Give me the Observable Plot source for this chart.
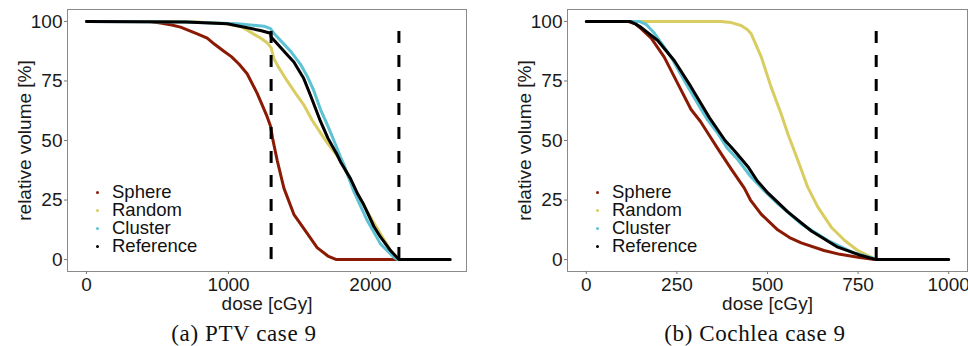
<!DOCTYPE html>
<html>
<head>
<meta charset="utf-8">
<script src="https://cdn.jsdelivr.net/npm/d3@7"></script>
<script src="https://cdn.jsdelivr.net/npm/@observablehq/plot@0.6"></script>
<style>
  html, body { margin: 0; padding: 0; background: white; }
  #wrap { position: relative; width: 968px; height: 346px; overflow: hidden; }
  .legend { position: absolute; font-family: "Liberation Sans", Arial, sans-serif; font-size: 18.5px; color: #111; line-height: 18px; }
  .legend .row { position: relative; height: 18px; white-space: nowrap; }
  .legend .dot { position: absolute; width: 3px; height: 3px; border-radius: 50%; top: 8px; left: 0; }
  .legend .lab { position: absolute; left: 16px; top: 0; line-height: 18px; height: 18px; }
  .caption { position: absolute; font-family: "Liberation Serif", "DejaVu Serif", serif; font-size: 23px; letter-spacing: 0.6px; color: #111; white-space: nowrap; transform: translate(-50%, -50%); }
</style>
</head>
<body>
<div id="wrap"></div>
<script>
// ---- data ----
const seriesNames = ["Sphere", "Random", "Cluster", "Reference"];
const seriesColors = ["#8b1a04", "#d9cd62", "#5cc2d4", "#000000"];

// Panel (a): PTV case 9 — [dose cGy, relative volume %]
const sphereA = [[0,100],[450,100],[521,99.3],[600,98.5],[662,97.6],[780,94.8],[850,93],[900,90.5],[960,87.8],[1020,85.2],[1075,82],[1131,78],[1202,69.8],[1272,60],[1296,56],[1310,51],[1343,41.6],[1390,30],[1460,19],[1554,11],[1624,5],[1700,1.5],[1760,0],[2560,0]];
const randomA = [[0,100],[600,100],[800,99.7],[990,99],[1100,97.5],[1225,93],[1272,91],[1300,89],[1319,84.5],[1350,81],[1413,75],[1470,70],[1530,65],[1589,58.5],[1650,53],[1695,49],[1760,44],[1800,40.5],[1859,33],[1950,23],[2023,15.5],[2070,10.8],[2150,3],[2200,0],[2560,0]];
const clusterA = [[0,100],[700,99.8],[1061,99],[1249,98],[1296,97],[1319,95],[1413,89],[1437,87.5],[1507,82],[1554,77],[1600,71],[1648,63],[1700,56],[1742,50],[1789,43],[1812,40],[1883,28.5],[1977,16.4],[2070,6.6],[2164,1],[2190,0],[2560,0]];
const referenceA = [[0,100],[700,99.8],[990,99],[1225,96.2],[1296,95],[1300,93.5],[1343,90.6],[1413,86],[1460,83],[1530,76],[1577,69],[1648,58],[1700,51],[1765,44],[1789,41],[1859,34],[1906,28],[1953,23],[2023,14],[2070,9.5],[2141,3.8],[2200,0],[2560,0]];
const limitsA = [1300, 2200];

// Panel (b): Cochlea case 9
const sphereB = [[0,100],[114,100],[135,99],[151,97],[179,93],[215,85],[252,74],[289,63],[315,58],[340,52],[361,47],[400,38],[436,30],[453,25],[483,19],[528,12.5],[564,9],[593,7],[656,3.8],[700,2.2],[750,1],[796,0],[1000,0]];
const randomB = [[0,100],[372,100],[400,99.5],[427,98.3],[445,96.5],[455,94.8],[483,85],[510,72.4],[538,61],[556,52.8],[584,41.6],[611,30.4],[639,22],[676,13.6],[713,8],[749,3.8],[786,1],[800,0],[1000,0]];
const clusterB = [[0,100],[146,100],[165,98.8],[188,95],[234,85],[271,75],[317,63],[333,59],[363,53],[388,47],[418,42],[453,35],[490,29],[528,23.5],[593,15],[667,8],[735,3],[796,0.4],[800,0],[1000,0]];
const referenceB = [[0,100],[120,100],[135,99],[151,97.5],[197,92],[243,83.5],[289,72.5],[340,59.5],[383,50],[407,46],[446,39],[472,33],[501,28],[556,20],[621,12],[694,5.2],[759,1.7],[800,0],[1000,0]];
const limitsB = [800];

const yTicks = [0, 25, 50, 75, 100];
const xTicksA = [0, 1000, 2000];
const xTicksB = [0, 250, 500, 750, 1000];
const limitTop = 96;
const captions = ["(a) PTV case 9", "(b) Cochlea case 9"];

// ---- drawing ----
function panel(series, limits, xDomain, xTicks, mLeft, mRight) {
  return Plot.plot({
    width: 484,
    height: 318,
    marginLeft: mLeft,
    marginRight: mRight,
    marginTop: 9,
    marginBottom: 47,
    style: { fontFamily: "'Liberation Sans', Arial, sans-serif", fontSize: "19px", color: "#1a1a1a", background: "white", overflow: "visible" },
    x: { domain: xDomain },
    y: { domain: [-5, 105] },
    marks: [
      Plot.frame({ stroke: "#8a8a8a", strokeWidth: 1 }),
      Plot.axisX({ ticks: xTicks, tickFormat: d3.format("d"), tickSize: 3, tickPadding: 3, stroke: "#777", fontSize: 19,
                   label: "dose [cGy]", labelAnchor: "center", labelOffset: 38, labelArrow: false }),
      Plot.axisY({ ticks: yTicks, tickFormat: d3.format("d"), tickSize: 3, tickPadding: 2, stroke: "#777", fontSize: 19,
                   label: "relative volume [%]", labelAnchor: "center", labelOffset: 50, labelArrow: false }),
      ...series.map((s, i) => Plot.line(s, { stroke: seriesColors[i], strokeWidth: 3, strokeLinejoin: "round" })),
      Plot.ruleX(limits, { y1: 0, y2: limitTop, stroke: "black", strokeWidth: 3, strokeDasharray: "12,12" })
    ]
  });
}

const wrap = document.getElementById("wrap");
const pA = panel([sphereA, randomA, clusterA, referenceA], limitsA, [-134, 2676], xTicksA, 67, 18);
const pB = panel([sphereB, randomB, clusterB, referenceB], limitsB, [-52, 1052], xTicksB, 83, 1);
pA.style.position = "absolute"; pA.style.left = "0px"; pA.style.top = "0px";
pB.style.position = "absolute"; pB.style.left = "484px"; pB.style.top = "0px";
wrap.appendChild(pA);
wrap.appendChild(pB);

function legend(left, top) {
  const d = document.createElement("div");
  d.className = "legend";
  d.style.left = left + "px";
  d.style.top = top + "px";
  seriesNames.forEach((n, i) => {
    const r = document.createElement("div");
    r.className = "row";
    r.innerHTML = `<span class="dot" style="background:${seriesColors[i]}"></span><span class="lab">${n}</span>`;
    d.appendChild(r);
  });
  wrap.appendChild(d);
}
legend(96, 183);
legend(596, 183);

[[244, captions[0]], [755, captions[1]]].forEach(([x, t]) => {
  const c = document.createElement("div");
  c.className = "caption";
  c.style.left = x + "px";
  c.style.top = "334px";
  c.textContent = t;
  wrap.appendChild(c);
});
</script>
</body>
</html>
